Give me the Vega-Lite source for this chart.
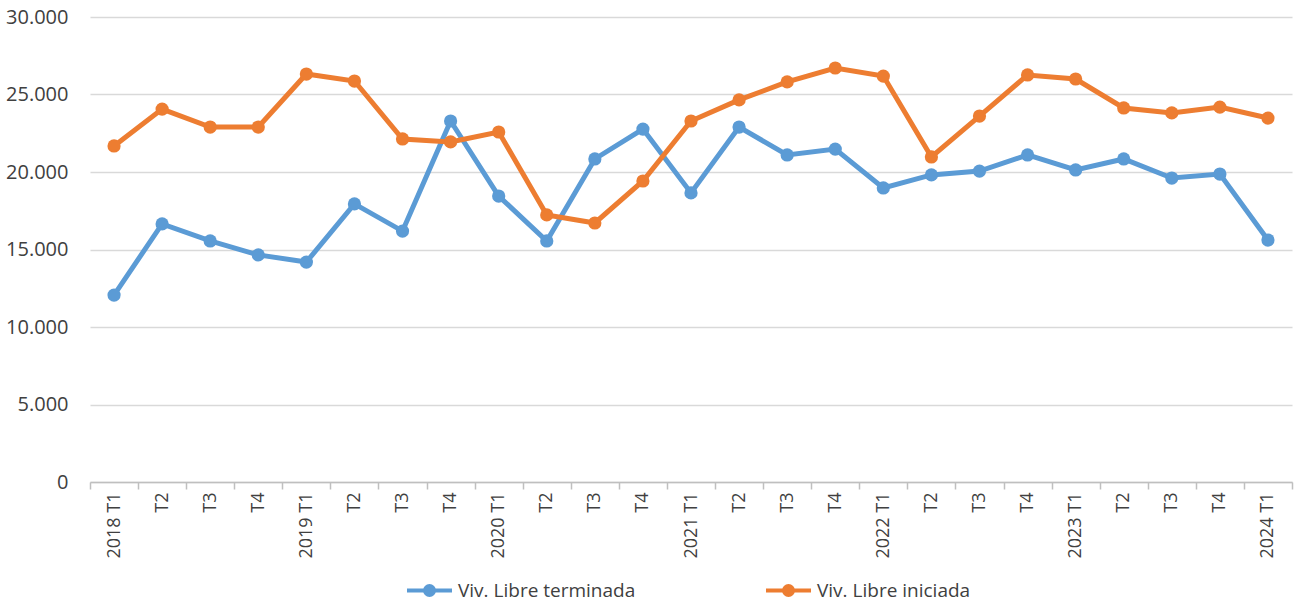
{
  "$schema": "https://vega.github.io/schema/vega-lite/v6.json",
  "width": 1202,
  "height": 465,
  "autosize": {"type": "none"},
  "padding": {"left": 90, "top": 17, "right": 6, "bottom": 121},
  "background": "white",
  "config": {
    "font": "Open Sans",
    "view": {"stroke": null},
    "axis": {"labelFont": "Open Sans", "labelColor": "#404040"},
    "legend": {"labelFont": "Open Sans"}
  },
  "data": {
    "values": [
      {"q": "2018 T1", "s": "Viv. Libre terminada", "v": 12060},
      {"q": "2018 T2", "s": "Viv. Libre terminada", "v": 16650},
      {"q": "2018 T3", "s": "Viv. Libre terminada", "v": 15550},
      {"q": "2018 T4", "s": "Viv. Libre terminada", "v": 14650},
      {"q": "2019 T1", "s": "Viv. Libre terminada", "v": 14190},
      {"q": "2019 T2", "s": "Viv. Libre terminada", "v": 17940},
      {"q": "2019 T3", "s": "Viv. Libre terminada", "v": 16190},
      {"q": "2019 T4", "s": "Viv. Libre terminada", "v": 23290},
      {"q": "2020 T1", "s": "Viv. Libre terminada", "v": 18450},
      {"q": "2020 T2", "s": "Viv. Libre terminada", "v": 15550},
      {"q": "2020 T3", "s": "Viv. Libre terminada", "v": 20840},
      {"q": "2020 T4", "s": "Viv. Libre terminada", "v": 22770},
      {"q": "2021 T1", "s": "Viv. Libre terminada", "v": 18650},
      {"q": "2021 T2", "s": "Viv. Libre terminada", "v": 22900},
      {"q": "2021 T3", "s": "Viv. Libre terminada", "v": 21100},
      {"q": "2021 T4", "s": "Viv. Libre terminada", "v": 21480},
      {"q": "2022 T1", "s": "Viv. Libre terminada", "v": 18970},
      {"q": "2022 T2", "s": "Viv. Libre terminada", "v": 19810},
      {"q": "2022 T3", "s": "Viv. Libre terminada", "v": 20060},
      {"q": "2022 T4", "s": "Viv. Libre terminada", "v": 21100},
      {"q": "2023 T1", "s": "Viv. Libre terminada", "v": 20130},
      {"q": "2023 T2", "s": "Viv. Libre terminada", "v": 20840},
      {"q": "2023 T3", "s": "Viv. Libre terminada", "v": 19610},
      {"q": "2023 T4", "s": "Viv. Libre terminada", "v": 19870},
      {"q": "2024 T1", "s": "Viv. Libre terminada", "v": 15610},
      {"q": "2018 T1", "s": "Viv. Libre iniciada", "v": 21680},
      {"q": "2018 T2", "s": "Viv. Libre iniciada", "v": 24060},
      {"q": "2018 T3", "s": "Viv. Libre iniciada", "v": 22900},
      {"q": "2018 T4", "s": "Viv. Libre iniciada", "v": 22900},
      {"q": "2019 T1", "s": "Viv. Libre iniciada", "v": 26320},
      {"q": "2019 T2", "s": "Viv. Libre iniciada", "v": 25870},
      {"q": "2019 T3", "s": "Viv. Libre iniciada", "v": 22130},
      {"q": "2019 T4", "s": "Viv. Libre iniciada", "v": 21940},
      {"q": "2020 T1", "s": "Viv. Libre iniciada", "v": 22580},
      {"q": "2020 T2", "s": "Viv. Libre iniciada", "v": 17230},
      {"q": "2020 T3", "s": "Viv. Libre iniciada", "v": 16710},
      {"q": "2020 T4", "s": "Viv. Libre iniciada", "v": 19420},
      {"q": "2021 T1", "s": "Viv. Libre iniciada", "v": 23290},
      {"q": "2021 T2", "s": "Viv. Libre iniciada", "v": 24650},
      {"q": "2021 T3", "s": "Viv. Libre iniciada", "v": 25810},
      {"q": "2021 T4", "s": "Viv. Libre iniciada", "v": 26710},
      {"q": "2022 T1", "s": "Viv. Libre iniciada", "v": 26190},
      {"q": "2022 T2", "s": "Viv. Libre iniciada", "v": 20970},
      {"q": "2022 T3", "s": "Viv. Libre iniciada", "v": 23610},
      {"q": "2022 T4", "s": "Viv. Libre iniciada", "v": 26260},
      {"q": "2023 T1", "s": "Viv. Libre iniciada", "v": 26000},
      {"q": "2023 T2", "s": "Viv. Libre iniciada", "v": 24130},
      {"q": "2023 T3", "s": "Viv. Libre iniciada", "v": 23810},
      {"q": "2023 T4", "s": "Viv. Libre iniciada", "v": 24190},
      {"q": "2024 T1", "s": "Viv. Libre iniciada", "v": 23480}
    ]
  },
  "mark": {"type": "line", "strokeWidth": 5, "point": {"filled": true, "size": 175, "opacity": 1}},
  "encoding": {
    "x": {
      "field": "q", "type": "ordinal", "sort": null, "title": null,
      "scale": {"paddingInner": 0, "paddingOuter": 0},
      "axis": {
        "labelAngle": -90,
        "labelExpr": "indexof(datum.label, 'T1') >= 0 ? datum.label : split(datum.label, ' ')[1]",
        "tickBand": "extent",
        "tickSize": 7,
        "tickColor": "#bfbfbf",
        "tickWidth": 1.5,
        "domainColor": "#bfbfbf",
        "domainWidth": 1.5,
        "labelPadding": 3,
        "labelFontSize": 18,
        "grid": false
      }
    },
    "y": {
      "field": "v", "type": "quantitative", "title": null,
      "scale": {"domain": [0, 30000], "nice": false},
      "axis": {
        "values": [0, 5000, 10000, 15000, 20000, 25000, 30000],
        "labelExpr": "replace(format(datum.value, ','), ',', '.')",
        "domain": false,
        "ticks": false,
        "labelPadding": 22,
        "gridColor": "#d9d9d9",
        "gridWidth": 1.5,
        "labelFontSize": 20
      }
    },
    "color": {
      "field": "s", "type": "nominal", "title": null,
      "scale": {"domain": ["Viv. Libre terminada", "Viv. Libre iniciada"], "range": ["#5b9bd5", "#ed7d31"]},
      "legend": {
        "orient": "none",
        "legendX": 315,
        "legendY": 549,
        "direction": "horizontal",
        "symbolType": "M-1,0L1,0M-0.2,0a0.2,0.2 0 1,0 0.4,0a0.2,0.2 0 1,0 -0.4,0",
        "symbolSize": 2025,
        "symbolStrokeWidth": 4,
        "labelFontSize": 19,
        "labelLimit": 400,
        "labelColor": "#404040",
        "labelOffset": 4,
        "columnPadding": 122
      }
    }
  }
}
